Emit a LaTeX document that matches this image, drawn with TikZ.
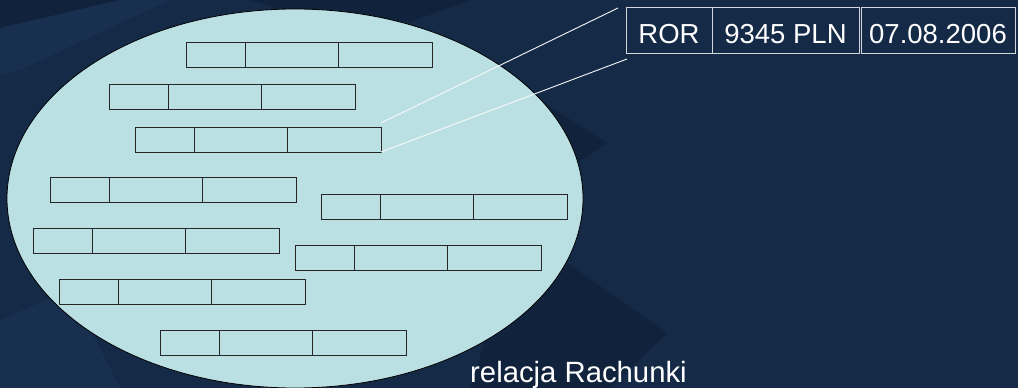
\documentclass[tikz,border=0pt]{standalone}
\usepackage{fontspec}
\setmainfont{Liberation Sans}
\usetikzlibrary{shapes.geometric}
\definecolor{bgcol}{HTML}{152A47}
\definecolor{bgdark}{HTML}{11233C}
\definecolor{bglight}{HTML}{192F4F}
\definecolor{ellcol}{HTML}{BAE0E4}
\definecolor{reccol}{HTML}{D4D8DC}
\tikzset{
  cell/.style={draw=black!85, line width=0.9pt, fill=ellcol, rectangle, inner sep=0pt, outer sep=0pt, minimum height=25pt, anchor=west},
  reccell/.style={draw=reccol, line width=0.9pt, rectangle, inner sep=0pt, outer sep=0pt, text=white, minimum height=46pt, text height=36pt, text depth=10pt, anchor=north west, font=\fontsize{27.5}{30}\selectfont},
  conn/.style={draw=white!95!gray, line width=0.9pt},
  lbl/.style={text=white, inner sep=0pt, anchor=base west, font=\fontsize{29.3}{32}\selectfont}
}
\newcommand{\tuplerow}[3]{%
  \node[cell, minimum width=59pt, anchor=north west] (#1a) at (#2,#3) {};
  \node[cell, minimum width=93pt] (#1b) at (#1a.east) {};
  \node[cell, minimum width=94pt] (#1c) at (#1b.east) {};
}
\begin{document}
\begin{tikzpicture}[x=1pt,y=-1pt]
\fill[bgcol] (0,0) rectangle (1018,388);
\useasboundingbox (0,0) rectangle (1018,388);
% subtle background facets
\fill[bgdark] (0,0) -- (120,0) -- (0,28) -- cycle;
\fill[bglight] (0,28) -- (120,0) -- (170,0) -- (20,70) -- (0,75) -- cycle;
\fill[bgdark] (250,0) -- (470,0) -- (410,22) -- (300,15) -- cycle;
\fill[bgdark] (540,100) -- (607,143) -- (560,175) -- cycle;
\fill[bgdark] (520,230) -- (667,333) -- (610,388) -- (470,388) -- cycle;
\fill[bglight] (0,320) -- (70,290) -- (120,388) -- (0,388) -- cycle;
% relation
\node[ellipse, draw=black, line width=0.8pt, fill=ellcol, inner sep=0pt, minimum width=576pt, minimum height=379pt] (rel) at (295,198.5) {};
\tuplerow{ra}{186}{42}
\tuplerow{rb}{109}{84}
\tuplerow{rc}{135}{127}
\tuplerow{rd}{50}{177}
\tuplerow{re}{321}{194}
\tuplerow{rf}{33}{228}
\tuplerow{rg}{59}{279}
\tuplerow{rh}{295}{245}
\tuplerow{ri}{160}{330}
% record
\node[reccell, minimum width=86pt] (f1) at (626,7) {ROR};
\node[reccell, minimum width=147pt] (f2) at (712,7) {9345 PLN};
\node[reccell, minimum width=154pt] (f3) at (861,7) {07.08.2006};
\coordinate (e1) at (618,8);
\coordinate (e2) at (627,59);
\draw[conn] ([yshift=4pt]rcc.north east) -- (e1);
\draw[conn] (rcc.south east) -- (e2);
\node[lbl] (lab) at (470,382) {relacja Rachunki};
\end{tikzpicture}
\end{document}
